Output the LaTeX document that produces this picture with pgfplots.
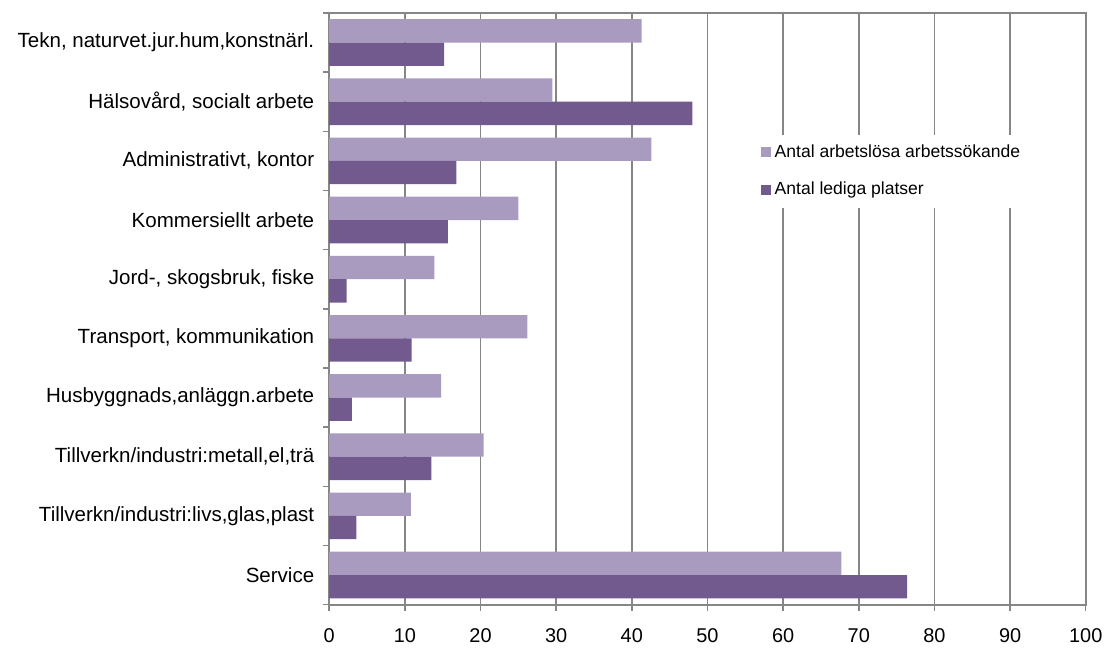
\documentclass[border=0pt]{standalone}
\usepackage{pgfplots}
\pgfplotsset{compat=1.18}
\usepackage{fontspec}
\setmainfont{Liberation Sans}
\definecolor{lightp}{RGB}{169,155,191}
\definecolor{darkp}{RGB}{114,89,142}
\definecolor{axgray}{RGB}{134,134,134}
\begin{document}
\begin{tikzpicture}
\begin{axis}[
  name=ax,
  scale only axis,
  width=379.75pt, height=297pt,
  xmin=0, xmax=100, ymin=-0.5, ymax=9.5,
  xtick={0,10,...,100},
  ytick={-0.5,0.5,...,9.5},
  yticklabels={},
  extra y ticks={0,1,2,3,4,5,6,7,8,9},
  extra y tick labels={Service,{Tillverkn/industri:livs,glas,plast},{Tillverkn/industri:metall,el,trä},{Husbyggnads,anläggn.arbete},{Transport, kommunikation},{Jord-, skogsbruk, fiske},{Kommersiellt arbete},{Administrativt, kontor},{Hälsovård, socialt arbete},{Tekn, naturvet.jur.hum,konstnärl.}},
  extra y tick style={major tick length=0pt, tick style={draw=none}},
  xtick pos=left, ytick pos=left,
  tick align=outside,
  major tick length=3pt,
  axis line style={axgray, line width=1pt},
  xmajorgrids,
  major grid style={axgray, line width=0.75pt},
  tick style={axgray, line width=0.75pt},
  /pgf/number format/assume math mode=true,
  tick label style={font=\fontsize{10}{12}\selectfont, black},
  yticklabel style={xshift=-4pt, font=\fontsize{10.3}{12}\selectfont},
  xticklabel style={yshift=-5.5pt},
  legend style={at={(rel axis cs:0.562,0.795)}, anchor=north west, draw=none, fill=white,
    font=\fontsize{8.8}{11}\selectfont, row sep=7pt, inner sep=3pt},
  legend cell align=left,
  legend image code/.code={\fill[#1] (0pt,-2.5pt) rectangle (5pt,2.5pt);},
]
\addplot[xbar, fill=lightp, draw=none, bar width=11.7pt, bar shift=5.85pt] coordinates {(41.3,9) (29.5,8) (42.6,7) (25.0,6) (13.9,5) (26.2,4) (14.8,3) (20.4,2) (10.8,1) (67.7,0)};
\addlegendentry{Antal arbetslösa arbetssökande}
\addplot[xbar, fill=darkp, draw=none, bar width=11.7pt, bar shift=-5.85pt] coordinates {(15.2,9) (48.0,8) (16.8,7) (15.7,6) (2.3,5) (10.9,4) (3.0,3) (13.5,2) (3.6,1) (76.4,0)};
\addlegendentry{Antal lediga platser}
\end{axis}
\path (ax.south west) ++(-165.25pt,-17.5pt) rectangle ++(554.5pt,321pt);
\end{tikzpicture}
\end{document}
